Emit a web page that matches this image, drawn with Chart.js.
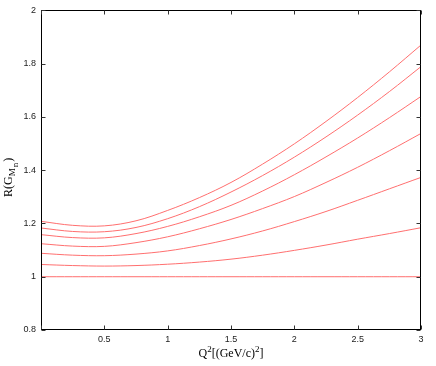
<!DOCTYPE html>
<html>
<head>
<meta charset="utf-8">
<script src="https://cdn.jsdelivr.net/npm/chart.js@4.4.1/dist/chart.umd.min.js"></script>
<style>
  html, body { margin: 0; padding: 0; background: #fff; }
  #wrap { width: 436px; height: 366px; }
</style>
</head>
<body>
<div id="wrap"><canvas id="c" width="436" height="366"></canvas></div>
<script>
// Q^2 values in (GeV/c)^2
const qValues = [0, 0.25, 0.5, 0.75, 1, 1.25, 1.5, 1.75, 2, 2.25, 2.5, 2.75, 3];
// R(G_M^n) curves, top to bottom
const curve1 = [1.208, 1.193, 1.191, 1.210, 1.249, 1.297, 1.354, 1.423, 1.499, 1.583, 1.673, 1.769, 1.870];
const curve2 = [1.183, 1.170, 1.169, 1.185, 1.218, 1.263, 1.318, 1.380, 1.449, 1.525, 1.607, 1.695, 1.789];
const curve3 = [1.158, 1.147, 1.146, 1.162, 1.189, 1.225, 1.268, 1.322, 1.383, 1.450, 1.521, 1.597, 1.677];
const curve4 = [1.124, 1.115, 1.114, 1.128, 1.150, 1.180, 1.215, 1.256, 1.301, 1.354, 1.411, 1.473, 1.538];
const curve5 = [1.088, 1.081, 1.079, 1.085, 1.097, 1.117, 1.142, 1.172, 1.207, 1.245, 1.287, 1.330, 1.373];
const curve6 = [1.046, 1.042, 1.040, 1.042, 1.047, 1.055, 1.066, 1.081, 1.099, 1.119, 1.141, 1.162, 1.184];
const curve7 = [1.0, 1.0, 1.0, 1.0, 1.0, 1.0, 1.0, 1.0, 1.0, 1.0, 1.0, 1.0, 1.0];
const curves = [curve1, curve2, curve3, curve4, curve5, curve6, curve7];
const xTickLabels = ['', '0.5', '1', '1.5', '2', '2.5', '3'];
const yTickLabels = ['0.8', '1', '1.2', '1.4', '1.6', '1.8', '2'];

const LINE_COLOR = '#ff6f6f';
const datasets = curves.map((vals, i) => ({
  label: 'curve' + (i + 1),
  data: qValues.map((q, j) => ({ x: q, y: vals[j] })),
  borderColor: LINE_COLOR,
  borderWidth: 1,
  pointRadius: 0,
  fill: false,
  tension: 0.35
}));

const framePlugin = {
  id: 'frame',
  afterDraw(chart) {
    const ctx = chart.ctx;
    const a = chart.chartArea;
    const xs = chart.scales.x, ys = chart.scales.y;
    ctx.save();
    ctx.strokeStyle = '#000';
    ctx.lineWidth = 1;
    const L = Math.round(a.left) + 0.5, R = Math.round(a.right) - 0.5;
    const T = Math.round(a.top) + 0.5, B = Math.round(a.bottom) - 0.5;
    ctx.strokeRect(L, T, R - L, B - T);
    // inward tick marks on all sides
    ctx.strokeStyle = '#333';
    const tl = 4;
    ctx.beginPath();
    xs.ticks.forEach(t => {
      const px = Math.round(xs.getPixelForValue(t.value)) + 0.5;
      ctx.moveTo(px, B); ctx.lineTo(px, B - tl);
      ctx.moveTo(px, T); ctx.lineTo(px, T + tl);
    });
    ys.ticks.forEach(t => {
      const py = Math.round(ys.getPixelForValue(t.value)) + 0.5;
      ctx.moveTo(L, py); ctx.lineTo(L + tl, py);
      ctx.moveTo(R, py); ctx.lineTo(R - tl, py);
    });
    ctx.stroke();

    // x title: Q^2[(GeV/c)^2]
    const serif = '"Liberation Serif", "DejaVu Serif", serif';
    const main = '12px ' + serif, small = '9px ' + serif;
    ctx.fillStyle = '#000';
    ctx.textBaseline = 'alphabetic';
    ctx.textAlign = 'left';
    const parts = [['Q', main, 0], ['2', small, -5], ['[(GeV/c)', main, 0], ['2', small, -5], [']', main, 0]];
    let total = 0;
    parts.forEach(p => { ctx.font = p[1]; total += ctx.measureText(p[0]).width; });
    let x = (a.left + a.right) / 2 - total / 2;
    const by = 357;
    parts.forEach(p => { ctx.font = p[1]; ctx.fillText(p[0], x, by + p[2]); x += ctx.measureText(p[0]).width; });

    // y title: R(G_M^n), rotated
    ctx.save();
    ctx.translate(12, 197);
    ctx.rotate(-Math.PI / 2);
    const yparts = [['R(G', main, 0, 0], ['M', small, 3, 1], ['n', small, 6, 1], [')', main, 0, 0]];
    let yx = 0;
    yparts.forEach(p => { ctx.font = p[1]; ctx.fillText(p[0], yx, p[2]); yx += ctx.measureText(p[0]).width + p[3]; });
    ctx.restore();
    ctx.restore();
  }
};

new Chart(document.getElementById('c'), {
  type: 'line',
  data: { datasets },
  options: {
    responsive: false,
    animation: false,
    devicePixelRatio: 1,
    layout: { padding: { top: 9, right: 15, left: 0, bottom: 0 } },
    plugins: { legend: { display: false }, tooltip: { enabled: false } },
    scales: {
      x: {
        type: 'linear', min: 0, max: 3,
        grid: { display: false, drawTicks: false },
        border: { display: false },
        afterFit(s) { s.height = 36; },
        afterBuildTicks(s) { s.ticks = xTickLabels.map((l, i) => ({ value: i * 0.5 })); },
        ticks: {
          padding: 4,
          color: '#222',
          font: { family: '"Liberation Sans", Arial, sans-serif', size: 9 },
          maxRotation: 0,
          callback: (v, i) => xTickLabels[i]
        }
      },
      y: {
        type: 'linear', min: 0.8, max: 2,
        grid: { display: false, drawTicks: false },
        border: { display: false },
        afterFit(s) { s.width = 41; },
        afterBuildTicks(s) { s.ticks = yTickLabels.map(l => ({ value: parseFloat(l) })); },
        ticks: {
          padding: 5,
          color: '#222',
          font: { family: '"Liberation Sans", Arial, sans-serif', size: 9 },
          callback: (v, i) => yTickLabels[i]
        }
      }
    }
  },
  plugins: [framePlugin]
});
</script>
</body>
</html>
